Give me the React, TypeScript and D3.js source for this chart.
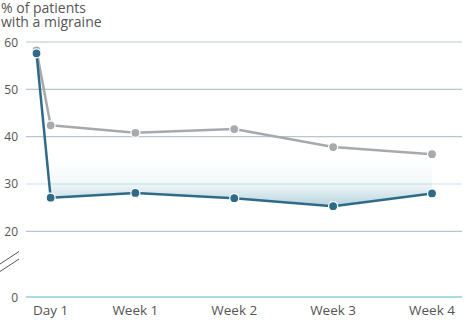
import React, { useRef, useEffect } from 'react';
import * as d3 from 'd3';

// Days since start of treatment; day 0 is the baseline reading
const days = [0, 1, 7, 14, 21, 28];
const dayLabels = ['', 'Day 1', 'Week 1', 'Week 2', 'Week 3', 'Week 4'];
const placebo = [58.2, 42.4, 40.8, 41.6, 37.8, 36.3];
const treated = [57.6, 27.1, 28.1, 27.0, 25.3, 28.0];
const yTicks = [0, 20, 30, 40, 50, 60];
const titleLines = ['% of patients', 'with a migraine'];

const WIDTH = 466;
const HEIGHT = 320;
const FONT = '"Open Sans", sans-serif';

const MigraineChart: React.FC = () => {
  const svgRef = useRef<SVGSVGElement>(null);

  useEffect(() => {
    if (!svgRef.current) return;
    const svg = d3.select(svgRef.current);
    svg.selectAll('*').remove();

    // Broken y axis: 0..20 squeezed, 20..60 at full scale
    const y = d3.scaleLinear().domain([0, 20, 60]).range([297, 231.3, 42]);
    const x = d3.scaleLinear().domain([0, 28]).range([36.5, 432]);
    const gridLeft = 26;
    const gridRight = 462;

    const defs = svg.append('defs');
    const grad = defs.append('linearGradient')
      .attr('id', 'gapFill')
      .attr('gradientUnits', 'userSpaceOnUse')
      .attr('x1', 0).attr('x2', 0)
      .attr('y1', y(35)).attr('y2', y(25));
    grad.append('stop').attr('offset', '0%').attr('stop-color', '#3d8ea5').attr('stop-opacity', 0);
    grad.append('stop').attr('offset', '50%').attr('stop-color', '#3d8ea5').attr('stop-opacity', 0.07);
    grad.append('stop').attr('offset', '100%').attr('stop-color', '#3d8ea5').attr('stop-opacity', 0.4);

    // Gridlines
    svg.append('g')
      .selectAll('line')
      .data(yTicks)
      .enter()
      .append('line')
      .attr('x1', gridLeft)
      .attr('x2', gridRight)
      .attr('y1', d => y(d))
      .attr('y2', d => y(d))
      .attr('stroke', d => (d === 0 ? '#a9dce4' : d === 30 ? '#c6e6ec' : '#b7c7cb'))
      .attr('stroke-width', d => (d === 0 ? 2 : 1.2));

    // Tick labels
    svg.append('g')
      .selectAll('text')
      .data(yTicks)
      .enter()
      .append('text')
      .attr('x', 18)
      .attr('y', d => y(d))
      .attr('text-anchor', 'end')
      .attr('dominant-baseline', 'central')
      .attr('font-family', FONT)
      .attr('font-size', '12px')
      .attr('fill', '#555')
      .text(d => d.toString());

    // Axis break marks
    svg.append('g')
      .selectAll('line')
      .data([0, 7.5])
      .enter()
      .append('line')
      .attr('x1', 0)
      .attr('y1', d => 264 + d)
      .attr('x2', 19)
      .attr('y2', d => 251.5 + d)
      .attr('stroke', '#555')
      .attr('stroke-width', 1);

    // X labels
    svg.append('g')
      .selectAll('text')
      .data(days)
      .enter()
      .append('text')
      .attr('x', d => x(d))
      .attr('y', 314.5)
      .attr('text-anchor', 'middle')
      .attr('font-family', FONT)
      .attr('font-size', '13.5px')
      .attr('fill', '#555')
      .text((d, i) => dayLabels[i]);

    // Shaded gap between the two series after baseline
    const idx = d3.range(1, days.length);
    const gap = d3.area<number>()
      .x(i => x(days[i]))
      .y0(i => y(treated[i]))
      .y1(i => y(placebo[i]));
    svg.append('path')
      .datum(idx)
      .attr('d', gap)
      .attr('fill', 'url(#gapFill)');

    const series = [
      { values: placebo, color: '#a6aaac' },
      { values: treated, color: '#2f6b88' },
    ];

    const line = d3.line<number>()
      .x((d, i) => x(days[i]))
      .y(d => y(d));

    series.forEach(s => {
      svg.append('path')
        .datum(s.values)
        .attr('d', line)
        .attr('fill', 'none')
        .attr('stroke', s.color)
        .attr('stroke-width', 2.5)
        .attr('stroke-linejoin', 'round');
    });

    series.forEach(s => {
      svg.append('g')
        .selectAll('circle')
        .data(s.values)
        .enter()
        .append('circle')
        .attr('cx', (d, i) => x(days[i]))
        .attr('cy', d => y(d))
        .attr('r', 4.5)
        .attr('fill', s.color)
        .attr('stroke', 'white')
        .attr('stroke-width', 1.2);
    });

    // Two-line title, top left
    svg.append('g')
      .selectAll('text')
      .data(titleLines)
      .enter()
      .append('text')
      .attr('x', 1)
      .attr('y', (d, i) => 12.5 + i * 14)
      .attr('font-family', FONT)
      .attr('font-size', '14px')
      .attr('fill', '#555')
      .text(d => d);
  }, []);

  return (
    <svg
      ref={svgRef}
      width={WIDTH}
      height={HEIGHT}
      style={{ position: 'absolute', left: 0, top: 0, background: 'white' }}
    />
  );
};

export default function App() {
  return <MigraineChart />;
}
